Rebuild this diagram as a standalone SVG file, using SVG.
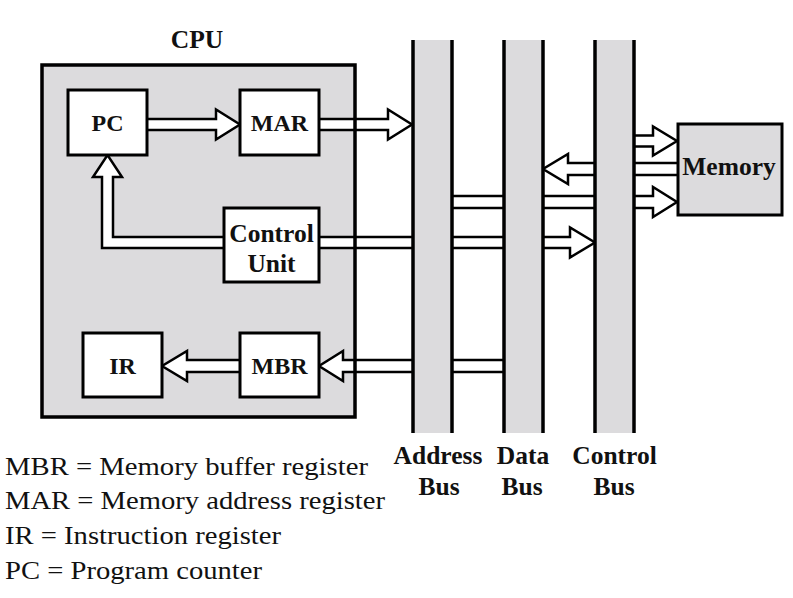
<svg xmlns="http://www.w3.org/2000/svg" width="793" height="598" viewBox="0 0 793 598">
<style>
.lbl{font-family:"Liberation Serif","Times New Roman",serif;font-weight:bold;font-size:24px;text-anchor:middle;fill:#111}
.big{font-size:25.5px}
.leg{font-family:"Liberation Serif","Times New Roman",serif;font-size:26px;fill:#111}
.box{fill:#fff;stroke:#000;stroke-width:3}
.arr{fill:#fff;stroke:#000;stroke-width:2.5;stroke-linejoin:miter}
.busfill{fill:#dcdbdd}
.busline{stroke:#000;stroke-width:3.5}
</style>
<rect width="793" height="598" fill="#fff"/>
<g id="cpu">
<rect x="42" y="65" width="313" height="352" fill="#dcdbdd"/>
<text class="lbl big" x="197" y="48">CPU</text>
</g>
<g id="connectors">
<polygon class="arr" points="232,237 113,237 113,177 122,177 107.5,155 93,177 102,177 102,248 232,248"/>
<polygon class="arr" points="140,119 216,119 216,109.5 240,124.5 216,139.5 216,130 140,130"/>
<polygon class="arr" points="312,119 388,119 388,109.5 412,124.5 388,139.5 388,130 312,130"/>
<polygon class="arr" points="312,237 570,237 570,227.5 595,242.5 570,257.5 570,248 312,248"/>
<polygon class="arr" points="690,163 568,163 568,154 543,169 568,184 568,175 690,175"/>
<polygon class="arr" points="620,135.5 653,135.5 653,126.5 677,141 653,155.5 653,146.5 620,146.5"/>
<polygon class="arr" points="440,196 653,196 653,187 677,202 653,217 653,208 440,208"/>
<polygon class="arr" points="515,360 343,360 343,351 319,366 343,381 343,372 515,372"/>
<polygon class="arr" points="246,360 187,360 187,351 162,366 187,381 187,372 246,372"/>
</g>
<g id="address-bus">
<rect class="busfill" x="413" y="40" width="39" height="393"/>
<line class="busline" x1="413" y1="40" x2="413" y2="433"/>
<line class="busline" x1="452" y1="40" x2="452" y2="433"/>
<text class="lbl big" x="438" y="464">Address</text>
<text class="lbl big" x="439" y="495">Bus</text>
</g>
<g id="data-bus">
<rect class="busfill" x="504" y="40" width="39" height="393"/>
<line class="busline" x1="504" y1="40" x2="504" y2="433"/>
<line class="busline" x1="543" y1="40" x2="543" y2="433"/>
<text class="lbl big" x="523" y="464">Data</text>
<text class="lbl big" x="522" y="495">Bus</text>
</g>
<g id="control-bus">
<rect class="busfill" x="595" y="40" width="39" height="393"/>
<line class="busline" x1="595" y1="40" x2="595" y2="433"/>
<line class="busline" x1="634" y1="40" x2="634" y2="433"/>
<text class="lbl big" x="614.5" y="464">Control</text>
<text class="lbl big" x="614" y="495">Bus</text>
</g>
<g id="cpu-border">
<rect x="42" y="65" width="313" height="352" fill="none" stroke="#000" stroke-width="3.5"/>
</g>
<g id="pc">
<rect class="box" x="68" y="90" width="79" height="65"/>
<text class="lbl" x="107.5" y="131">PC</text>
</g>
<g id="mar">
<rect class="box" x="240" y="90" width="79" height="65"/>
<text class="lbl" x="279.5" y="131">MAR</text>
</g>
<g id="control-unit">
<rect class="box" x="224" y="208" width="95" height="74"/>
<text class="lbl big" x="271.5" y="242">Control</text>
<text class="lbl big" x="271.5" y="272">Unit</text>
</g>
<g id="ir">
<rect class="box" x="83" y="333" width="79" height="64"/>
<text class="lbl" x="122.5" y="374">IR</text>
</g>
<g id="mbr">
<rect class="box" x="240" y="333" width="79" height="64"/>
<text class="lbl" x="279.5" y="374">MBR</text>
</g>
<g id="memory">
<rect x="678" y="124" width="104" height="91" fill="#dcdbdd" stroke="#000" stroke-width="3"/>
<text class="lbl big" x="729" y="175">Memory</text>
</g>
<g id="legend">
<text class="leg" x="5" y="475" textLength="363" lengthAdjust="spacingAndGlyphs">MBR = Memory buffer register</text>
<text class="leg" x="5" y="509" textLength="380" lengthAdjust="spacingAndGlyphs">MAR = Memory address register</text>
<text class="leg" x="5" y="544" textLength="276" lengthAdjust="spacingAndGlyphs">IR = Instruction register</text>
<text class="leg" x="5" y="579" textLength="257" lengthAdjust="spacingAndGlyphs">PC = Program counter</text>
</g>
</svg>
